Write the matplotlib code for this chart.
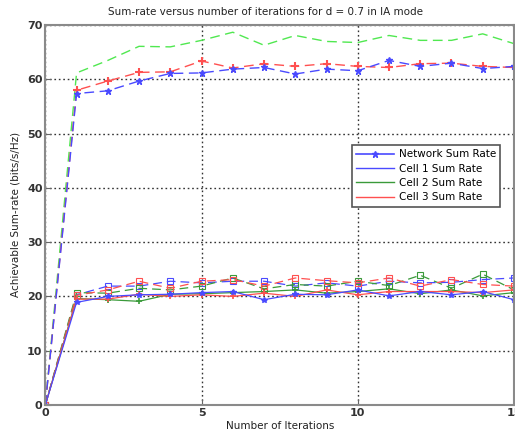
import matplotlib
matplotlib.use('Agg')
import matplotlib.pyplot as plt
from matplotlib.lines import Line2D

iterations = list(range(16))

# network sum rate, three runs
net_blue = [0, 57.4, 57.9, 59.7, 61.1, 61.2, 61.9, 62.2, 61.0, 61.9, 61.6, 63.5, 62.4, 63.0, 62.0, 62.4]
net_red = [0, 58.0, 59.7, 61.3, 61.4, 63.4, 62.1, 62.9, 62.4, 62.9, 62.4, 62.2, 62.9, 63.0, 62.4, 62.2]
net_green = [0, 61.2, 63.5, 66.1, 66.0, 67.2, 68.7, 66.3, 68.1, 67.0, 66.8, 68.1, 67.2, 67.2, 68.4, 66.6]

# per-cell sum rates (solid runs)
cell1_a = [0, 18.9, 20.0, 20.3, 20.4, 20.7, 20.9, 19.4, 20.4, 20.3, 21.2, 20.1, 20.9, 20.3, 20.9, 19.4]
cell2_a = [0, 19.6, 19.4, 19.1, 20.4, 20.5, 20.7, 20.9, 21.2, 20.6, 20.9, 21.4, 20.5, 21.2, 20.1, 20.7]
cell3_a = [0, 19.5, 19.5, 20.4, 20.0, 20.3, 20.0, 20.6, 20.0, 21.2, 20.3, 20.9, 20.9, 20.9, 20.7, 21.2]

# per-cell sum rates (dashed runs)
cell1_b = [0, 20.3, 21.9, 21.9, 22.8, 22.5, 22.8, 22.8, 21.9, 22.5, 21.9, 22.8, 22.5, 22.6, 23.1, 23.4]
cell2_b = [0, 20.7, 20.6, 21.5, 21.2, 21.9, 23.4, 21.4, 22.2, 21.9, 22.8, 22.0, 23.9, 21.5, 24.1, 21.2]
cell3_b = [0, 20.2, 21.2, 22.8, 21.5, 22.8, 23.1, 21.9, 23.4, 22.9, 22.5, 23.4, 21.9, 23.1, 22.2, 21.9]

legend_labels = ['Network Sum Rate', 'Cell 1 Sum Rate', 'Cell 2 Sum Rate', 'Cell 3 Sum Rate']

blue = '#4a4aff'
red = '#ff5050'
lgreen = '#50e850'
dgreen = '#3a9a3a'

fig = plt.figure(figsize=(5.15, 4.34), dpi=100)
ax = fig.add_axes([0.088, 0.067, 0.91, 0.875])

dash = (0, (7, 4))
ax.plot(iterations, net_green, color=lgreen, linestyle=dash, linewidth=1.0)
ax.plot(iterations, net_red, color=red, linestyle=dash, linewidth=1.0, marker='+', markersize=6, markeredgewidth=1.5)
ax.plot(iterations, net_blue, color=blue, linestyle=dash, linewidth=1.0, marker='*', markersize=4.5)

sq = dict(marker='s', markersize=5, markerfacecolor='none', markeredgewidth=0.8)
ax.plot(iterations, cell1_b, color=blue, linestyle=dash, linewidth=0.9, **sq)
ax.plot(iterations, cell2_b, color=dgreen, linestyle=dash, linewidth=0.9, **sq)
ax.plot(iterations, cell3_b, color=red, linestyle=dash, linewidth=0.9, **sq)

ax.plot(iterations, cell2_a, color=dgreen, linewidth=0.9, marker='+', markersize=5, markeredgewidth=1.2)
ax.plot(iterations, cell3_a, color=red, linewidth=0.9, marker='+', markersize=5, markeredgewidth=1.2)
ax.plot(iterations, cell1_a, color=blue, linewidth=0.9, marker='*', markersize=4)

ax.set_xlim(0, 15)
ax.set_ylim(0, 70)
ax.set_xticks([0, 5, 10, 15])
ax.set_yticks(range(0, 71, 10))
ax.grid(True, color='#333333', linestyle=(0, (1.2, 2.0)), linewidth=1.0)
ax.tick_params(direction='in', length=4, labelsize=8, labelcolor='#333333', color='#666666', pad=2)
for lbl in ax.get_xticklabels() + ax.get_yticklabels():
    lbl.set_fontweight('bold')
for sp in ax.spines.values():
    sp.set_color('#8a8a8a')
    sp.set_linewidth(1.5)

handles = [
    Line2D([], [], color=blue, marker='*', markersize=5, linewidth=1.2),
    Line2D([], [], color=blue, linewidth=1.0),
    Line2D([], [], color=dgreen, linewidth=1.0),
    Line2D([], [], color=red, linewidth=1.0),
]
leg = ax.legend(handles, legend_labels, loc='upper left', bbox_to_anchor=(0.643, 0.698),
                fontsize=7.5, handlelength=3.6, handletextpad=0.5, labelspacing=0.42,
                borderpad=0.4, fancybox=False, framealpha=1.0)
leg.get_frame().set_edgecolor('#555555')
leg.get_frame().set_linewidth(1.2)

fig.text(0.516, 0.972, 'Sum-rate versus number of iterations for d = 0.7 in IA mode',
         ha='center', va='center', fontsize=7.5, color='#222222')
fig.text(0.545, 0.018, 'Number of Iterations', ha='center', va='center', fontsize=7.5, color='#222222')
fig.text(0.03, 0.505, 'Achievable Sum-rate (bits/s/Hz)', ha='center', va='center',
         rotation=90, fontsize=7.5, color='#222222')

fig.savefig('out.png', dpi=100)
